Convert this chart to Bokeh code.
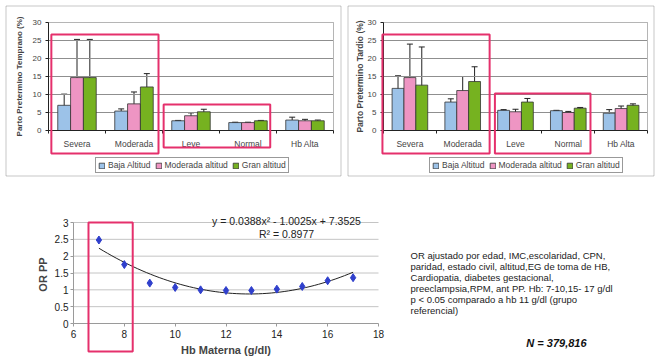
import numpy as np
from bokeh.plotting import figure
from bokeh.models import (ColumnDataSource, Whisker, TeeHead, BoxAnnotation, Legend,
                          LegendItem, Label, FixedTicker, Range1d, NumeralTickFormatter)
from bokeh.layouts import column, row
from bokeh.embed import file_html
from bokeh.resources import INLINE

# ---------------- data ----------------
categories = ["Severa", "Moderada", "Leve", "Normal", "Hb Alta"]
series = ["Baja Altitud", "Moderada altitud", "Gran altitud"]

# Parto Pretermino Temprano (%)
temp_baja = [7.0, 5.4, 2.7, 2.2, 2.9]
temp_baja_lo = [4.5, 4.7, 2.6, 2.1, 2.1]
temp_baja_hi = [10.1, 6.0, 2.8, 2.3, 3.7]
temp_mod = [14.7, 7.4, 4.1, 2.2, 2.7]
temp_mod_lo = [7.2, 4.7, 3.3, 2.1, 2.3]
temp_mod_hi = [25.3, 10.7, 4.9, 2.3, 3.1]
temp_gran = [14.7, 12.1, 5.2, 2.7, 2.7]
temp_gran_lo = [7.2, 8.5, 4.5, 2.6, 2.5]
temp_gran_hi = [25.3, 15.8, 5.9, 2.8, 2.9]

# Parto Pretermino Tardio (%)
tard_baja = [11.7, 7.9, 5.6, 5.5, 4.8]
tard_baja_lo = [8.8, 7.1, 5.5, 5.4, 3.9]
tard_baja_hi = [15.2, 8.8, 5.8, 5.6, 5.8]
tard_mod = [14.7, 11.1, 5.2, 5.0, 6.1]
tard_mod_lo = [6.8, 8.2, 4.5, 4.7, 5.4]
tard_mod_hi = [24.0, 15.0, 5.9, 5.3, 6.8]
tard_gran = [12.6, 13.6, 7.9, 6.2, 7.0]
tard_gran_lo = [6.2, 10.3, 6.9, 5.9, 6.6]
tard_gran_hi = [23.2, 17.7, 8.9, 6.4, 7.4]

y_ticks_bar = [0, 5, 10, 15, 20, 25, 30]

# OR PP vs Hb materna
hb = [7, 8, 9, 10, 11, 12, 13, 14, 15, 16, 17]
or_pp = [2.48, 1.75, 1.2, 1.07, 1.0, 0.98, 0.98, 1.02, 1.1, 1.27, 1.36]
trend_coef = [0.0388, -1.0025, 7.3525]
trend_x_span = [7, 17]
hb_ticks = [6, 8, 10, 12, 14, 16, 18]
or_ticks = [0, 0.5, 1, 1.5, 2, 2.5, 3]

equation_text = "y = 0.0388x\u00b2 - 1.0025x + 7.3525"
r2_text = "R\u00b2 = 0.8977"
note_lines = [
    "OR ajustado por edad,  IMC,escolaridad, CPN,",
    "paridad, estado civil, altitud,EG de toma de HB,",
    "Cardiopatia, diabetes gestacional,",
    "preeclampsia,RPM, ant PP. Hb:  7-10,15- 17 g/dl",
    "p < 0.05 comparado a hb 11 g/dl (grupo",
    "referencial)",
]
n_text = "N = 379,816"

# ---------------- styles ----------------
FONT = "Liberation Sans"
COLORS = ["#9CC2E8", "#EE95C3", "#76B220"]
RED = "#E5306C"
TOP_H = 178


def span_range(lo, hi, px_before, px_span, px_after):
    """Range so that [lo, hi] occupies px_span pixels with given pixel margins."""
    k = (hi - lo) / px_span
    return Range1d(lo - px_before * k, hi + px_after * k)


def bar_chart(width, ytitle, title_size, vals, los, his, px_left, px_right,
              title_standoff, boxes, legend_x, border_lr):
    n = len(categories)
    x_range = span_range(0, n, px_left, width - px_left - px_right, px_right)
    y_range = span_range(0, 30, 48, TOP_H - 22 - 48, 22)
    p = figure(width=width, height=TOP_H, x_range=x_range, y_range=y_range,
               output_backend="svg", toolbar_location=None,
               min_border=0, min_border_left=0, min_border_right=0,
               min_border_top=0, min_border_bottom=0)
    p.outline_line_color = None
    p.grid.visible = False

    # plot area: grid lines + border
    p.segment(x0=0, x1=n, y0=y_ticks_bar[1:], y1=y_ticks_bar[1:],
              line_color="#8F8F8F", line_width=1)
    p.quad(left=0, right=n, bottom=0, top=30, fill_color=None,
           line_color="#B5B5B5", line_width=1)

    centers = [i + 0.5 for i in range(n)]
    offsets = [-0.225, 0.0, 0.225]
    items = []
    for i, s in enumerate(series):
        xb = [c + offsets[i] for c in centers]
        src = ColumnDataSource(dict(xb=xb, v=vals[i], lo=los[i], hi=his[i]))
        r = p.vbar(x="xb", top="v", width=0.225, source=src, fill_color=COLORS[i],
                   line_color="#333333", line_width=0.8)
        w = Whisker(source=src, base="xb", upper="hi", lower="lo",
                    line_color="#222222", line_width=1,
                    upper_head=TeeHead(size=6, line_color="#222222", line_width=1),
                    lower_head=TeeHead(size=6, line_color="#222222", line_width=1))
        p.add_layout(w)
        items.append(LegendItem(label=s, renderers=[r]))

    # axes placed at the data origin
    p.yaxis.fixed_location = 0
    p.yaxis.bounds = (0, 30)
    p.yaxis.ticker = FixedTicker(ticks=y_ticks_bar)
    p.yaxis.minor_tick_line_color = None
    p.yaxis.major_tick_out = 3
    p.yaxis.major_tick_in = 0
    p.yaxis.major_label_standoff = 4
    p.yaxis.major_label_text_font = FONT
    p.yaxis.major_label_text_font_size = "8px"
    p.yaxis.axis_label = ytitle
    p.yaxis.axis_label_text_font = FONT
    p.yaxis.axis_label_text_font_size = title_size
    p.yaxis.axis_label_text_font_style = "bold"
    p.yaxis.axis_label_standoff = title_standoff

    p.xaxis.fixed_location = 0
    p.xaxis.bounds = (0, n)
    p.xaxis.ticker = FixedTicker(ticks=centers, minor_ticks=list(range(n + 1)))
    p.xaxis.major_label_overrides = {c: lab for c, lab in zip(centers, categories)}
    p.xaxis.major_tick_out = 0
    p.xaxis.major_tick_in = 0
    p.xaxis.minor_tick_out = 3
    p.xaxis.minor_tick_in = 0
    p.xaxis.minor_tick_line_color = "#222222"
    p.xaxis.major_label_standoff = 5
    p.xaxis.major_label_text_font = FONT
    p.xaxis.major_label_text_font_size = "8.5px"
    p.axis.axis_line_color = "#222222"
    p.axis.major_tick_line_color = "#222222"

    legend = Legend(items=items, orientation="horizontal", location=(legend_x, 5),
                    label_text_font=FONT, label_text_font_size="8.5px",
                    glyph_width=7, glyph_height=7, label_standoff=3, spacing=4,
                    padding=2, margin=0, label_height=8, border_line_color="#333333",
                    border_line_width=1, background_fill_alpha=1)
    p.add_layout(legend, "center")

    for (l, r_, t, b) in boxes:
        p.add_layout(BoxAnnotation(left=l, right=r_, top=t, bottom=b, fill_alpha=0,
                                   line_color=RED, line_width=2, line_alpha=1))
    # chart border
    p.add_layout(BoxAnnotation(left=border_lr[0], right=border_lr[1], top=5.5,
                               bottom=TOP_H - 2.5,
                               left_units="canvas", right_units="canvas",
                               top_units="canvas", bottom_units="canvas",
                               fill_alpha=0, line_color="#444444", line_width=1))
    return p


f1 = bar_chart(343, "Parto Pretermino Temprano (%)", "8px",
               [temp_baja, temp_mod, temp_gran],
               [temp_baja_lo, temp_mod_lo, temp_gran_lo],
               [temp_baja_hi, temp_mod_hi, temp_gran_hi],
               48, 10, 6,
               [(0.05, 1.93, 26.7, -6.4), (2.02, 3.89, 7.2, -4.7)], 95, (5.5, 340.5))
f2 = bar_chart(319, "Parto Pretermino Tardio (%)", "8.5px",
               [tard_baja, tard_mod, tard_gran],
               [tard_baja_lo, tard_mod_lo, tard_gran_lo],
               [tard_baja_hi, tard_mod_hi, tard_gran_hi],
               40, 15, 0,
               [(-0.02, 2.01, 26.7, -6.4), (2.11, 3.92, 10.3, -6.4)], 86, (4.5, 310.5))

# ---------------- bottom chart ----------------
BW, BH = 662, 179
f3 = figure(width=BW, height=BH,
            x_range=span_range(6, 18, 73, BW - 73 - 284, 284),
            y_range=span_range(0, 3, 34, BH - 44 - 34, 44),
            output_backend="svg", toolbar_location=None,
            min_border=0, min_border_left=0, min_border_right=0,
            min_border_top=0, min_border_bottom=0)
f3.outline_line_color = None
f3.grid.visible = False
f3.segment(x0=6, x1=18, y0=or_ticks[1:], y1=or_ticks[1:], line_color="#C4C4C4",
           line_width=1)

f3.xaxis.fixed_location = 0
f3.xaxis.bounds = (6, 18)
f3.yaxis.fixed_location = 6
f3.yaxis.bounds = (0, 3)
f3.xaxis.ticker = FixedTicker(ticks=hb_ticks)
f3.yaxis.ticker = FixedTicker(ticks=or_ticks)
f3.yaxis.formatter = NumeralTickFormatter(format="0.[0]")
f3.axis.minor_tick_line_color = None
f3.axis.axis_line_color = "#9A9A9A"
f3.axis.major_tick_line_color = "#9A9A9A"
f3.axis.major_tick_out = 3
f3.axis.major_tick_in = 0
f3.axis.major_label_text_font = FONT
f3.axis.major_label_text_font_size = "10px"
f3.axis.major_label_text_color = "#222222"
f3.xaxis.major_label_standoff = 3
f3.yaxis.major_label_standoff = 2
f3.xaxis.axis_label = "Hb Materna (g/dl)"
f3.yaxis.axis_label = "OR  PP"
f3.axis.axis_label_text_font = FONT
f3.axis.axis_label_text_font_size = "11px"
f3.axis.axis_label_text_font_style = "bold"
f3.xaxis.axis_label_standoff = 3
f3.yaxis.axis_label_standoff = 3

tx = np.linspace(trend_x_span[0], trend_x_span[1], 60)
f3.line(tx, np.polyval(trend_coef, tx), line_color="#222222", line_width=1)
f3.scatter(hb, or_pp, marker="diamond", size=8, color="#2F3FCC")

f3.add_layout(BoxAnnotation(left=6.59, right=8.33, top=3.0, bottom=-0.83, fill_alpha=0,
                            line_color=RED, line_width=2, line_alpha=1))

f3.add_layout(Label(x=14.38, y=3.03, text=equation_text, text_align="center",
                    text_baseline="middle", text_font=FONT, text_font_size="10.5px",
                    text_color="#222222"))
f3.add_layout(Label(x=14.38, y=2.67, text=r2_text, text_align="center",
                    text_baseline="middle", text_font=FONT, text_font_size="10.5px",
                    text_color="#222222"))
for i, line in enumerate(note_lines):
    f3.add_layout(Label(x=19.26, y=2.02 - i * 0.3267, text=line, text_align="left",
                        text_baseline="middle", text_font=FONT,
                        text_font_size="9.5px", text_color="#222222"))
f3.add_layout(Label(x=25.0, y=-0.594, text=n_text, text_align="center",
                    text_baseline="middle", text_font=FONT, text_font_size="11px",
                    text_font_style="bold italic", text_color="#111111"))

layout = column(row(f1, f2, spacing=0), f3, spacing=0)
open("out.html", "w").write(file_html(layout, INLINE))
